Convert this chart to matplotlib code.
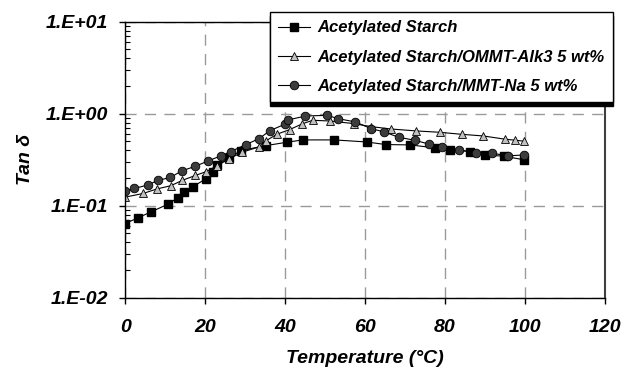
import matplotlib
matplotlib.use('Agg')
import matplotlib.pyplot as plt
import numpy as np
from matplotlib.ticker import FixedLocator, FuncFormatter, LogLocator, NullFormatter

# Tan delta vs temperature
t_as = [0, 3.1, 6.4, 10.7, 13.1, 14.7, 16.9, 20.1, 21.9, 22.9, 26.0, 28.9, 35.2, 40.5,
        44.4, 52.3, 60.4, 65.2, 71.3, 77.5, 81.2, 86.4, 90.0, 94.8, 99.9]
tan_as = [0.064, 0.0736, 0.0855, 0.104, 0.122, 0.141, 0.161, 0.195, 0.235, 0.278, 0.328,
          0.398, 0.45, 0.49, 0.519, 0.519, 0.493, 0.462, 0.458, 0.425, 0.404, 0.388,
          0.357, 0.345, 0.315]

t_alk = [0, 4.5, 7.9, 11.4, 14.2, 17.5, 20.3, 22.9, 26.0, 29.2, 33.5, 35.3, 37.9, 41.1,
         44.2, 46.9, 51.3, 57.2, 61.6, 66.5, 72.8, 78.7, 84.2, 89.6, 95.1, 97.6, 99.9]
tan_alk = [0.124, 0.136, 0.152, 0.165, 0.188, 0.213, 0.235, 0.271, 0.323, 0.381, 0.436,
           0.51, 0.597, 0.671, 0.773, 0.848, 0.833, 0.78, 0.723, 0.682, 0.65, 0.628,
           0.597, 0.573, 0.528, 0.515, 0.502]

t_na = [0, 2.3, 5.6, 8.1, 11.3, 14.1, 17.4, 20.6, 23.9, 26.4, 30.2, 33.5, 36.2, 39.9,
        40.7, 45.1, 50.5, 53.3, 57.6, 61.5, 64.8, 68.4, 72.4, 75.9, 79.2, 83.5, 87.8,
        91.8, 95.9, 99.9]
tan_na = [0.143, 0.154, 0.168, 0.188, 0.203, 0.239, 0.267, 0.305, 0.348, 0.388, 0.462,
          0.536, 0.655, 0.767, 0.855, 0.944, 0.96, 0.883, 0.813, 0.688, 0.634, 0.555,
          0.515, 0.469, 0.432, 0.404, 0.378, 0.372, 0.348, 0.357]

labels = ['Acetylated Starch',
          'Acetylated Starch/OMMT-Alk3 5 wt%',
          'Acetylated Starch/MMT-Na 5 wt%']

plt.rcParams['font.family'] = ['Liberation Sans', 'DejaVu Sans']
plt.rcParams['font.weight'] = 'bold'
plt.rcParams['font.style'] = 'italic'
plt.rcParams['axes.labelweight'] = 'bold'

fig = plt.figure(figsize=(6.24, 3.78), dpi=100)
ax = fig.add_axes([0.2008, 0.2124, 0.7683, 0.7302])

ax.plot(t_as, tan_as, color='black', lw=0.8, marker='s', ms=5.2,
        mfc='black', mec='black', label=labels[0])
ax.plot(t_alk, tan_alk, color='black', lw=0.8, marker='^', ms=6.2,
        mfc='#c0c0c0', mec='black', mew=0.6, label=labels[1])
ax.plot(t_na, tan_na, color='black', lw=0.8, marker='o', ms=6.2,
        mfc='#3c3c3c', mec='black', mew=0.6, label=labels[2])

ax.set_yscale('log')
ax.set_xlim(0, 120)
ax.set_ylim(0.01, 10)
ax.xaxis.set_major_locator(FixedLocator([0, 20, 40, 60, 80, 100, 120]))
ax.yaxis.set_major_locator(FixedLocator([0.01, 0.1, 1, 10]))
ax.yaxis.set_minor_locator(LogLocator(base=10, subs=np.arange(2, 10)))
ax.yaxis.set_minor_formatter(NullFormatter())
ax.yaxis.set_major_formatter(FuncFormatter(
    lambda v, p: '1.E%+03d' % int(round(np.log10(v)))))

ax.grid(True, which='major', color='#9a9a9a', lw=1.0, ls=(0, (8, 6)))
ax.tick_params(axis='both', which='major', direction='out', length=4.5, width=1,
               labelsize=14, color='black')
ax.tick_params(axis='x', pad=11)
ax.tick_params(axis='y', pad=8)
ax.tick_params(axis='y', which='minor', direction='in', length=3.5, width=0.8)
for s in ax.spines.values():
    s.set_linewidth(1.0)
ax.spines['right'].set_color('#404040')
ax.spines['right'].set_linewidth(1.5)

ax.set_xlabel('Temperature (\u00b0C)', fontsize=14, labelpad=10)
ax.set_ylabel('Tan \u03b4', fontsize=14, labelpad=8)

leg = ax.legend(loc='upper right', bbox_to_anchor=(0.982, 0.968),
                bbox_transform=fig.transFigure, fontsize=12, frameon=True,
                fancybox=False, shadow={'color': 'black', 'alpha': 1, 'ox': 0, 'oy': -3},
                handlelength=1.9, handletextpad=0.45, labelspacing=0.85,
                borderpad=0.5, borderaxespad=0)
leg.get_frame().set_edgecolor('black')
leg.get_frame().set_linewidth(1.0)
leg.get_frame().set_alpha(1)

fig.savefig('out.png', dpi=100)
